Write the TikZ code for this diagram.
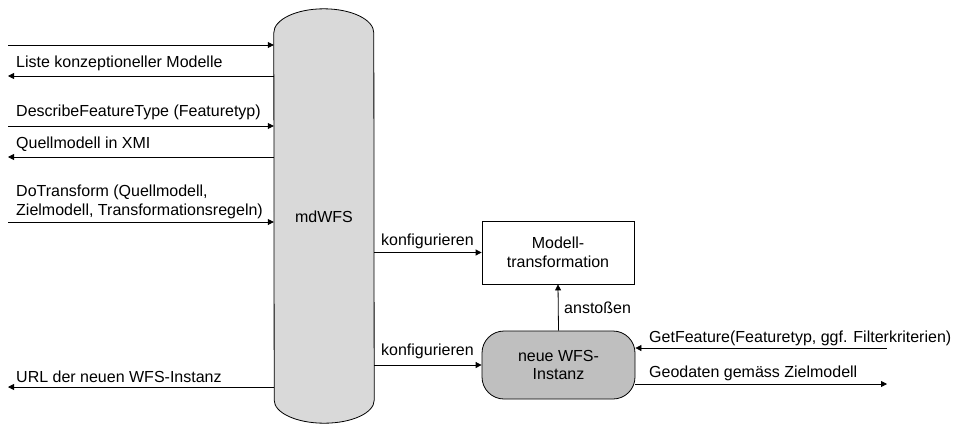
\documentclass[tikz,border=0pt]{standalone}
\usepackage{fontspec}
\setmainfont{Liberation Sans}
\usetikzlibrary{arrows.meta,positioning,backgrounds}

\definecolor{servicegray}{RGB}{217,217,217}
\definecolor{instancegray}{RGB}{191,191,191}

\begin{document}
\begin{tikzpicture}[x=1pt, y=-1pt,
font=\fontsize{16}{18.5}\selectfont,
service/.style={rectangle, draw=none, minimum width=100pt, minimum height=367pt, inner sep=0pt},
module/.style={rectangle, draw, line width=0.8pt, minimum width=152pt, minimum height=63pt, align=center},
instance/.style={rectangle, rounded corners=22pt, draw, fill=instancegray, line width=0.8pt, minimum width=153pt, minimum height=68pt, align=center},
flow/.style={line width=0.8pt, -{Triangle[length=6pt,width=6pt]}},
msg/.style={anchor=base west, inner sep=0pt, align=left}]

\useasboundingbox (0,0) rectangle (957,423);

%% local variables
\def \xl {8}
\def \xt {16}
\def \xr {887}

%% the service and its parts
\node[service] (mdwfs) at (324,216.5) {mdWFS};
\node[module] (trafo) at (558,252.5) {Modell-\\transformation};
\node[instance] (inst) at (558.5,365) {neue WFS-\\Instanz};

\begin{scope}[on background layer]
\draw[fill=servicegray, line width=0.8pt] (mdwfs.north west)
      arc[start angle=180, end angle=0, x radius=50pt, y radius=24pt]
      -- (mdwfs.south east)
      arc[start angle=0, end angle=-180, x radius=50pt, y radius=23pt]
      -- cycle;
\end{scope}

%% requests and responses on the left
\coordinate (req-1) at (\xl,45);
\coordinate (res-1) at (\xl,76);
\coordinate (req-2) at (\xl,126);
\coordinate (res-2) at (\xl,157);
\coordinate (req-3) at (\xl,222);
\coordinate (res-3) at (\xl,387);

\foreach \s in {1,2,3} {
      \draw[flow] (req-\s) -- (req-\s -| mdwfs.west);
      \draw[flow] (res-\s -| mdwfs.west) -- (res-\s);
}

\node[msg] (res-1-text) at (\xt,67) {Liste konzeptioneller Modelle};
\node[msg] (req-2-text) at (\xt,116) {DescribeFeatureType (Featuretyp)};
\node[msg] (res-2-text) at (\xt,148) {Quellmodell in XMI};
\node[msg] (req-3-text) at (\xt,215) {DoTransform (Quellmodell,\\Zielmodell, Transformationsregeln)};
\node[msg] (res-3-text) at (\xt,382) {URL der neuen WFS-Instanz};

%% inner connections
\draw[flow] (mdwfs.east |- trafo.west) -- (trafo.west);
\draw[flow] (mdwfs.east |- inst.west) -- (inst.west);
\draw[flow] (inst.north) -- (trafo.south);

\node[msg] (conf-1) at (381,245) {konfigurieren};
\node[msg] (conf-2) at (381,355) {konfigurieren};
\node[msg] (start) at (564,313) {anstoßen};

%% requests and responses on the right
\coordinate (get) at (\xr,348);
\coordinate (geo) at (\xr,384);
\draw[flow] (get) -- (get -| inst.east);
\draw[flow] (geo -| inst.east) -- (geo);

\node[msg] (get-text) at (649,342) {GetFeature(Featuretyp, ggf. Filterkriterien)};
\node[msg] (geo-text) at (649,377) {Geodaten gemäss Zielmodell};

\end{tikzpicture}
\end{document}
